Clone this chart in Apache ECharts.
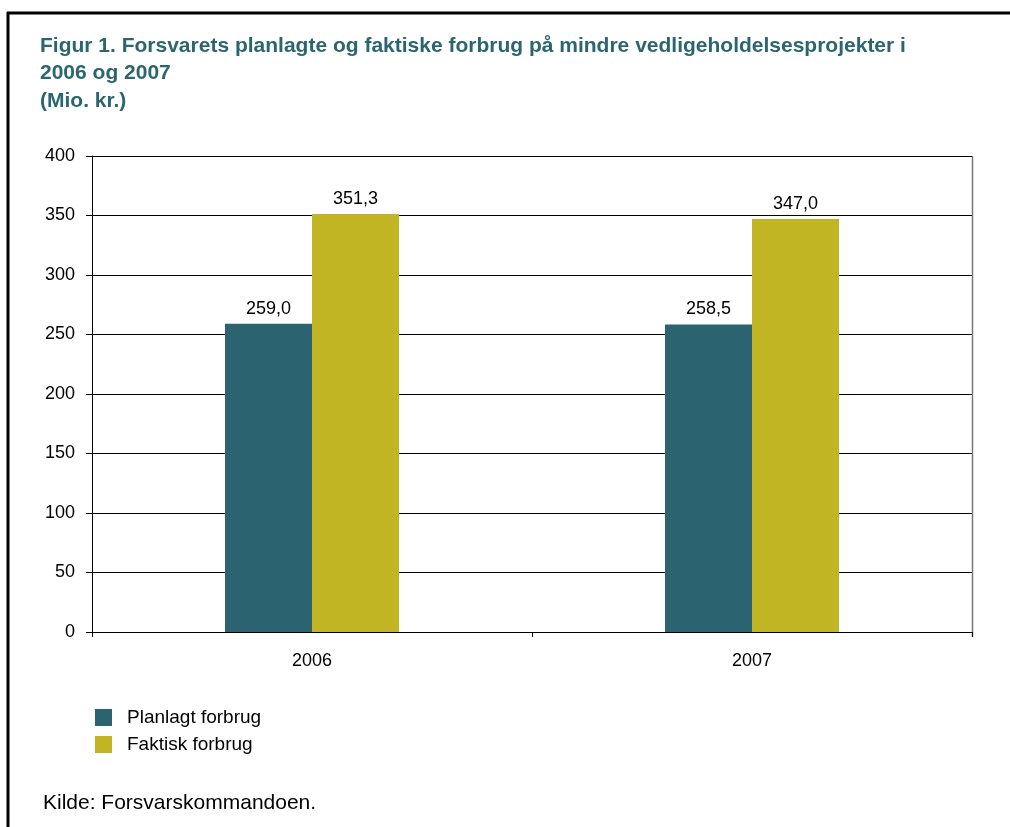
<!DOCTYPE html>
<html>
<head>
<meta charset="utf-8">
<script src="https://cdn.jsdelivr.net/npm/echarts@6/dist/echarts.min.js"></script>
<style>
  html, body { margin: 0; padding: 0; background: #fff; }
  #chart { width: 1010px; height: 827px; }
</style>
</head>
<body>
<div id="chart"></div>
<script>
  // data
  var years = ['2006', '2007'];
  var planlagt = [259.0, 258.5];
  var faktisk = [351.3, 347.0];
  var seriesNames = ['Planlagt forbrug', 'Faktisk forbrug'];

  var fontFam = '"Liberation Sans", Arial, sans-serif';
  var chart = echarts.init(document.getElementById('chart'));

  function labelFmt(p) {
    return p.value.toFixed(1).replace('.', ',');
  }

  var option = {
    backgroundColor: '#fff',
    animation: false,
    title: {
      text: 'Figur 1. Forsvarets planlagte og faktiske forbrug på mindre vedligeholdelsesprojekter i\n2006 og 2007\n(Mio. kr.)',
      left: 40,
      top: 32,
      padding: 0,
      textStyle: {
        fontFamily: fontFam,
        fontSize: 21,
        fontWeight: 'bold',
        color: '#2B6670',
        lineHeight: 27.5
      }
    },
    legend: {
      orient: 'vertical',
      left: 95,
      top: 708,
      padding: 0,
      icon: 'rect',
      itemWidth: 17,
      itemHeight: 17,
      itemGap: 8,
      data: seriesNames,
      textStyle: { fontFamily: fontFam, fontSize: 19, color: '#000', padding: [0, 0, 0, 10] }
    },
    grid: { left: 92, right: 38, top: 156, bottom: 195 },
    xAxis: {
      type: 'category',
      data: years,
      axisLine: { lineStyle: { color: '#000', width: 1 } },
      axisTick: { show: true, length: 5, lineStyle: { color: '#000' } },
      axisLabel: { fontFamily: fontFam, fontSize: 18, color: '#000', margin: 20 }
    },
    yAxis: {
      type: 'value',
      min: 0,
      max: 400,
      interval: 50,
      axisLine: { show: true, lineStyle: { color: '#000', width: 1 } },
      axisTick: { show: true, length: 6, lineStyle: { color: '#000' } },
      axisLabel: { fontFamily: fontFam, fontSize: 18, color: '#000', margin: 17 },
      splitLine: { lineStyle: { color: '#000', width: 1 } }
    },
    series: [
      {
        name: seriesNames[0],
        type: 'bar',
        data: planlagt,
        barWidth: 87,
        barGap: '0%',
        itemStyle: { color: '#2B6470' },
        label: { show: true, position: 'top', distance: 6, formatter: labelFmt,
          fontFamily: fontFam, fontSize: 18, color: '#000' }
      },
      {
        name: seriesNames[1],
        type: 'bar',
        data: faktisk,
        barWidth: 87,
        barGap: '0%',
        itemStyle: { color: '#C2B523' },
        label: { show: true, position: 'top', distance: 6, formatter: labelFmt,
          fontFamily: fontFam, fontSize: 18, color: '#000' }
      }
    ],
    graphic: [
      // outer frame
      { type: 'line', shape: { x1: 7, y1: 13, x2: 1010, y2: 13 }, style: { stroke: '#000', lineWidth: 3 } },
      { type: 'line', shape: { x1: 8, y1: 12, x2: 8, y2: 827 }, style: { stroke: '#000', lineWidth: 3 } },
      // plot right border
      { type: 'line', shape: { x1: 972.5, y1: 156, x2: 972.5, y2: 637 }, style: { stroke: '#777', lineWidth: 1.5 } },
      {
        type: 'text',
        left: 43,
        top: 793,
        style: { text: 'Kilde: Forsvarskommandoen.', fontFamily: fontFam, fontSize: 21, fill: '#000' }
      }
    ]
  };

  chart.setOption(option);
  window.addEventListener('resize', function () {
    chart.resize();
  });
</script>
</body>
</html>
